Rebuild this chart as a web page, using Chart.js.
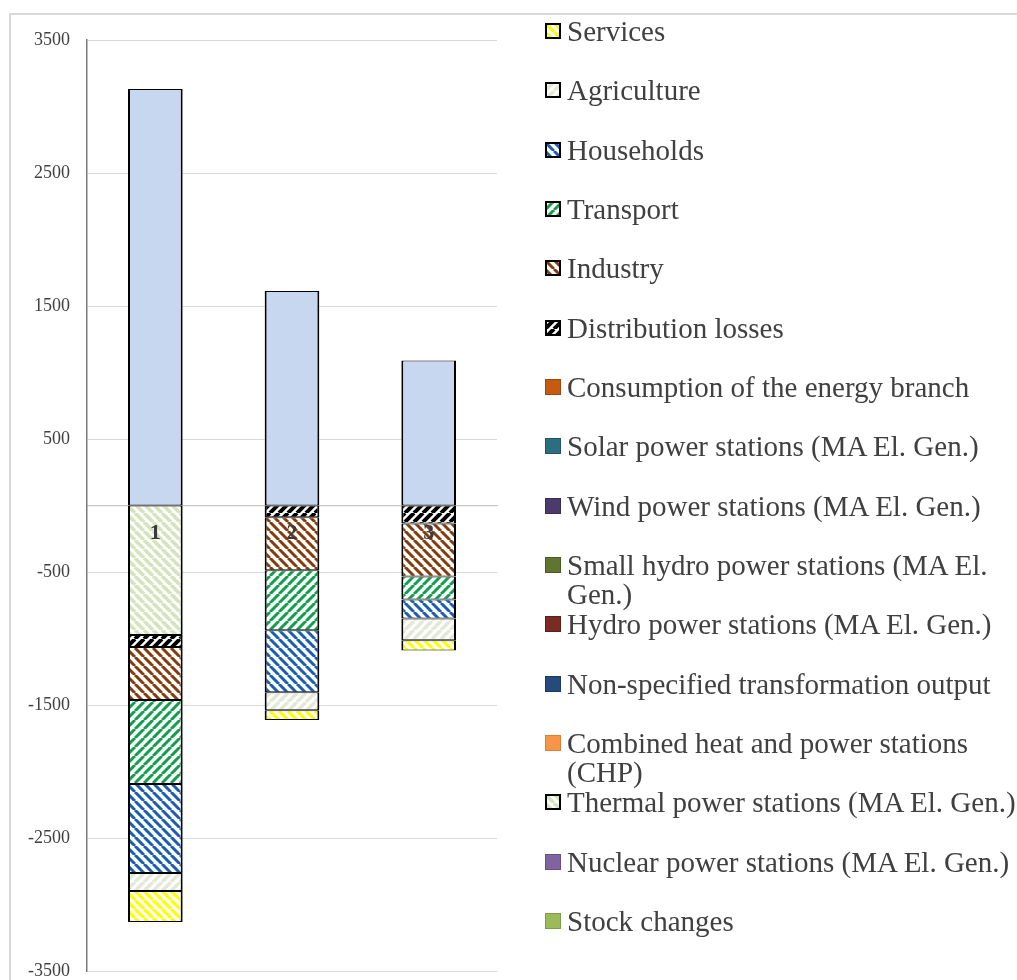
<!DOCTYPE html>
<html>
<head>
<meta charset="utf-8">
<script src="https://cdn.jsdelivr.net/npm/chart.js@4/dist/chart.umd.min.js"></script>
<style>
  html, body { margin: 0; padding: 0; background: #fff; overflow: hidden; }
  body { width: 1017px; height: 980px; position: relative; }
  #frame { position: absolute; left: 9px; top: 13px; width: 1100px; height: 1100px;
           border-left: 2px solid #d9d9d9; border-top: 2px solid #d9d9d9; }
  #chart { position: absolute; left: 0; top: 0; }
  #legend { position: absolute; left: 0; top: 0; width: 1017px; height: 980px; }
  .item { position: absolute; left: 545px; }
  .item canvas { position: absolute; left: 0; }
  .item span { position: absolute; left: 22px; top: 0; width: 452px;
               font: 29px "Liberation Serif", "Times New Roman", serif;
               line-height: 29px; color: #404040; white-space: normal; }
</style>
</head>
<body>
<div id="frame"></div>
<canvas id="chart" width="500" height="1000"></canvas>
<div id="legend"></div>
<script>
// Columns and y-axis labels
const categories = ['1', '2', '3'];
const tickValues = [3500, 2500, 1500, 500, -500, -1500, -2500, -3500];

// Electricity balance per column: supply above zero, uses below zero
const supply            = [3131, 1613, 1090];
const stockChanges      = [0, 0, 0];
const nuclear           = [0, 0, 0];
const thermal           = [-974, 0, 0];
const chp               = [0, 0, 0];
const nonSpecified      = [0, 0, 0];
const hydro             = [0, 0, 0];
const smallHydro        = [0, 0, 0];
const wind              = [0, 0, 0];
const solar             = [0, 0, 0];
const energyBranch      = [0, 0, 0];
const distributionLosses = [-90, -88, -135];
const industry          = [-398, -398, -398];
const transport         = [-632, -452, -173];
const households        = [-669, -466, -143];
const agriculture       = [-135, -135, -165];
const services          = [-233, -74, -76];

// Diagonal hatch fill: '\\' falls to the right, '/' rises to the right
function hatch(color, dir, lw, size) {
  size = size || 9;
  const c = document.createElement('canvas');
  c.width = c.height = size;
  const g = c.getContext('2d');
  g.fillStyle = '#ffffff';
  g.fillRect(0, 0, size, size);
  g.strokeStyle = color;
  g.lineWidth = lw;
  g.beginPath();
  for (let k = -1; k <= 1; k++) {
    if (dir === '\\') { g.moveTo(k * size, 0); g.lineTo(k * size + size, size); }
    else { g.moveTo(k * size, size); g.lineTo(k * size + size, 0); }
  }
  g.stroke();
  return g.createPattern(c, 'repeat');
}

function series(label, data, fill, edge, legend) {
  return {
    label: label,
    data: data,
    backgroundColor: fill,
    borderColor: edge,
    hideInLegend: legend === false,
    borderSkipped: false,
    borderWidth: (ctx) => ctx.raw ? { top: 1, bottom: 1, left: 2, right: 2 } : 0
  };
}

const datasets = [
  series('Supply', supply, '#c6d7ef', '#000000', false),
  series('Stock changes', stockChanges, '#9bbb59', '#7f9a48'),
  series('Nuclear power stations (MA El. Gen.)', nuclear, '#8064a2', '#665082'),
  series('Thermal power stations (MA El. Gen.)', thermal, hatch('#d6e3bc', '\\', 3.6), '#000000'),
  series('Combined heat and power stations (CHP)', chp, '#f79646', '#d9803a'),
  series('Non-specified transformation output', nonSpecified, '#254a7c', '#1c3860'),
  series('Hydro power stations (MA El. Gen.)', hydro, '#7b2a24', '#5e1f1b'),
  series('Small hydro power stations (MA El. Gen.)', smallHydro, '#5f7530', '#4a5c25'),
  series('Wind power stations (MA El. Gen.)', wind, '#4a3b6b', '#392d53'),
  series('Solar power stations (MA El. Gen.)', solar, '#2b6e80', '#215563'),
  series('Consumption of the energy branch', energyBranch, '#c55a11', '#9c470d'),
  series('Distribution losses', distributionLosses, hatch('#000000', '/', 4), '#000000'),
  series('Industry', industry, hatch('#843c0c', '\\', 3), '#000000'),
  series('Transport', transport, hatch('#10a04c', '/', 3), '#000000'),
  series('Households', households, hatch('#1a5db4', '\\', 3), '#000000'),
  series('Agriculture', agriculture, hatch('#e3e9d6', '/', 3.4), '#000000'),
  series('Services', services, hatch('#ffff00', '\\', 3.2), '#000000')
];

const chart = new Chart(document.getElementById('chart'), {
  type: 'bar',
  data: { labels: categories, datasets: datasets },
  options: {
    responsive: false,
    animation: false,
    devicePixelRatio: 1,
    layout: { padding: { top: 40, bottom: 29, left: 0, right: 3 } },
    datasets: { bar: { barPercentage: 0.4, categoryPercentage: 1.0 } },
    plugins: { legend: { display: false }, tooltip: { enabled: false } },
    scales: {
      x: {
        stacked: true,
        position: { y: 0 },
        grid: { display: false, drawTicks: false },
        border: { display: true, color: '#c8c8c8', width: 1.2, z: 0 },
        ticks: {
          z: 1,
          padding: 15,
          color: '#3a3a3a',
          font: { family: '"Liberation Serif", "Times New Roman", serif', size: 22, weight: 'bold' }
        }
      },
      y: {
        stacked: true,
        min: -3500,
        max: 3500,
        afterBuildTicks: (scale) => { scale.ticks = tickValues.map(v => ({ value: v })); },
        afterFit: (scale) => { scale.width = 87; },
        grid: { color: '#d9d9d9', lineWidth: 1, drawTicks: false },
        border: { display: true, color: '#7a7a7a', width: 1.5 },
        ticks: {
          padding: 17,
          color: '#404040',
          font: { family: '"Liberation Serif", "Times New Roman", serif', size: 18 },
          callback: (v) => String(v)
        }
      }
    }
  }
});

// Legend on the right, series listed from top of the stack downwards
const legendEl = document.getElementById('legend');
const pitch = 59.33;
chart.data.datasets.slice().reverse().filter(d => !d.hideInLegend).forEach((ds, i) => {
  const row = document.createElement('div');
  row.className = 'item';
  row.style.top = (17 + i * pitch) + 'px';
  const sw = document.createElement('canvas');
  sw.width = 16; sw.height = 16;
  sw.style.top = '6px';
  const g = sw.getContext('2d');
  const patterned = typeof ds.backgroundColor !== 'string';
  g.fillStyle = ds.borderColor;
  g.fillRect(0, 0, 16, 16);
  g.fillStyle = ds.backgroundColor;
  const inset = patterned ? 2 : 1;
  g.fillRect(inset, inset, 16 - 2 * inset, 16 - 2 * inset);
  const txt = document.createElement('span');
  txt.textContent = ds.label;
  row.appendChild(sw);
  row.appendChild(txt);
  legendEl.appendChild(row);
});
</script>
</body>
</html>
